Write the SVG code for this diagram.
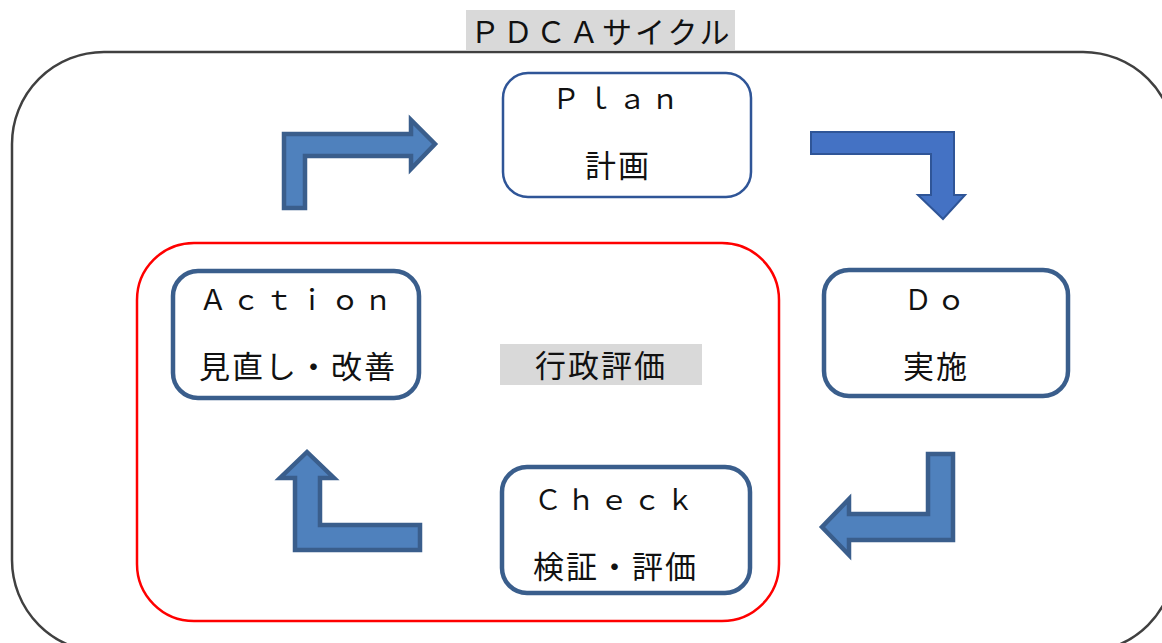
<svg xmlns="http://www.w3.org/2000/svg" width="1162" height="643" viewBox="0 0 1162 643">
<style>
.t{font-family:"Liberation Serif","Noto Sans CJK JP",serif;fill:#111;font-size:30px}
.lat{font-size:28px;letter-spacing:5px}
.cjk{font-size:31px;letter-spacing:2px}
.box{fill:#fff;stroke:#3A5E8C;stroke-width:4.5}
.thin{stroke:#2F5597;stroke-width:2.5}
.arr{fill:#4F81BD;stroke:#3A5E8C;stroke-width:4.5;stroke-linejoin:miter}
.arr2{fill:#4472C4;stroke:#2F5597;stroke-width:2}
.lbl{fill:#D9D9D9}
</style>
<g id="pdca-cycle">
<rect x="12" y="52" width="1163" height="600" rx="92" ry="92" fill="none" stroke="#404040" stroke-width="2.5"/>
</g>
<g id="title">
<rect class="lbl" x="466" y="10" width="269" height="40"/>
<text class="t" x="470" y="43" font-size="30" letter-spacing="3">ＰＤＣＡサイクル</text>
</g>
<g id="gyosei-hyoka">
<rect x="137" y="243" width="642" height="378" rx="57" ry="57" fill="none" stroke="#FF0000" stroke-width="2.5"/>
<rect class="lbl" x="500" y="344" width="202" height="41"/>
<text class="t cjk" x="535" y="377">行政評価</text>
</g>
<g id="plan">
<rect class="box thin" x="503" y="73" width="248" height="124" rx="25" ry="25"/>
<text class="t lat" x="552" y="109">Ｐｌａｎ</text>
<text class="t cjk" x="585" y="177">計画</text>
</g>
<g id="do">
<rect class="box" x="824" y="270" width="244" height="126" rx="25" ry="25"/>
<text class="t lat" x="904" y="310">Ｄｏ</text>
<text class="t cjk" x="903" y="378">実施</text>
</g>
<g id="action">
<rect class="box" x="173" y="271" width="246" height="127" rx="25" ry="25"/>
<text class="t lat" x="199" y="310">Ａｃｔｉｏｎ</text>
<text class="t cjk" x="199" y="378">見直し・改善</text>
</g>
<g id="check">
<rect class="box" x="502" y="467" width="248" height="126" rx="25" ry="25"/>
<text class="t lat" x="534" y="510">Ｃｈｅｃｋ</text>
<text class="t cjk" x="533" y="578">検証・評価</text>
</g>
<g id="connectors">
<polygon class="arr" points="284,208 284,134 411,134 411,120 435,144 411,169 411,156 305,156 305,208"/>
<polygon class="arr arr2" points="811,132 954,132 954,195 965,195 943,219 918,195 931,195 931,154 811,154"/>
<polygon class="arr" points="953,454 953,540 849,540 849,555 822,527 849,499 849,514 928,514 928,454"/>
<polygon class="arr" points="420,525 420,550 295,550 295,478 280,478 307,452 334,478 320,478 320,525"/>
</g>
</svg>
